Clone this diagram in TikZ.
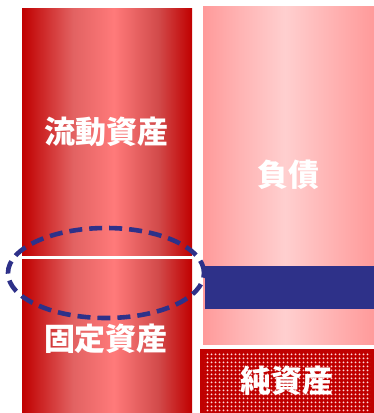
\documentclass[tikz,border=0pt]{standalone}
\usepackage{fontspec}
\usepackage{xcolor}
\usepackage{tikz}
\usetikzlibrary{
  calc,
  patterns.meta,
  shapes.geometric
}
\newfontfamily\jpfont{Noto Sans CJK JP}
\definecolor{assetdark}{HTML}{C00000}
\definecolor{assetmid}{HTML}{E26262}
\definecolor{assetlight}{HTML}{FF7A7A}
\definecolor{assetmidr}{HTML}{D24B4B}
\definecolor{debtedge}{HTML}{FF9A9A}
\definecolor{debtmid}{HTML}{FFB4B4}
\definecolor{debtlight}{HTML}{FFCFCF}
\definecolor{navycolor}{HTML}{2E3189}
\definecolor{dotcolor}{HTML}{FFDADA}
\pgfdeclarehorizontalshading{assetshade}{100bp}{%
  color(0bp)=(assetdark); color(25bp)=(assetdark); color(40bp)=(assetmid);
  color(52bp)=(assetlight); color(65bp)=(assetmidr); color(75bp)=(assetdark);
  color(100bp)=(assetdark)}
\pgfdeclarehorizontalshading{debtshade}{100bp}{%
  color(0bp)=(debtedge); color(25bp)=(debtedge); color(36bp)=(debtmid);
  color(49bp)=(debtlight); color(62bp)=(debtmid); color(75bp)=(debtedge);
  color(100bp)=(debtedge)}

\begin{document}
\begin{tikzpicture}[x=1pt, y=-1pt,
  asset/.style={shading=assetshade, inner sep=0pt, minimum width=170pt},
  debt/.style={shading=debtshade, inner sep=0pt, minimum width=170pt},
  lbl/.style={font=\jpfont\bfseries\fontsize{31}{31}\selectfont, text=white},
  netbox/.style={fill=assetdark, inner sep=0pt},
  bar/.style={fill=navycolor, inner sep=0pt},
  ring/.style={ellipse, draw=navycolor, line width=4.6pt,
               dash pattern=on 13pt off 7pt, inner sep=0pt},
]
  \useasboundingbox (0,0) rectangle (374,413);

  % Assets
  \node[asset, minimum height=247pt] (current) at (107,131.5) {};
  \node[asset, minimum height=154pt] (fixed) at (107,336) {};
  \node[lbl] at (current.center) {流動資産};
  \node[lbl] at (106,339) {固定資産};

  % Liabilities and equity
  \node[debt, minimum width=171pt, minimum height=338pt] (debts) at (288.5,175) {};
  \node[lbl] at (debts.center) {負債};
  \node[bar, minimum width=169pt, minimum height=43pt] (gapbar) at (289.5,287.5) {};
  \node[netbox, minimum width=174pt, minimum height=64pt] (net) at (287,381) {};
  \fill[pattern={Dots[distance=4pt, radius=1.25pt]}, pattern color=dotcolor]
    ($(net.south west)+(5,0)$) rectangle ($(net.north east)+(-4,4)$);
  \node[lbl] at (net.center) {純資産};

  % Overlap ring
  \node[ring, minimum width=196pt, minimum height=90pt] (overlap) at (106,273) {};

\end{tikzpicture}
\end{document}
